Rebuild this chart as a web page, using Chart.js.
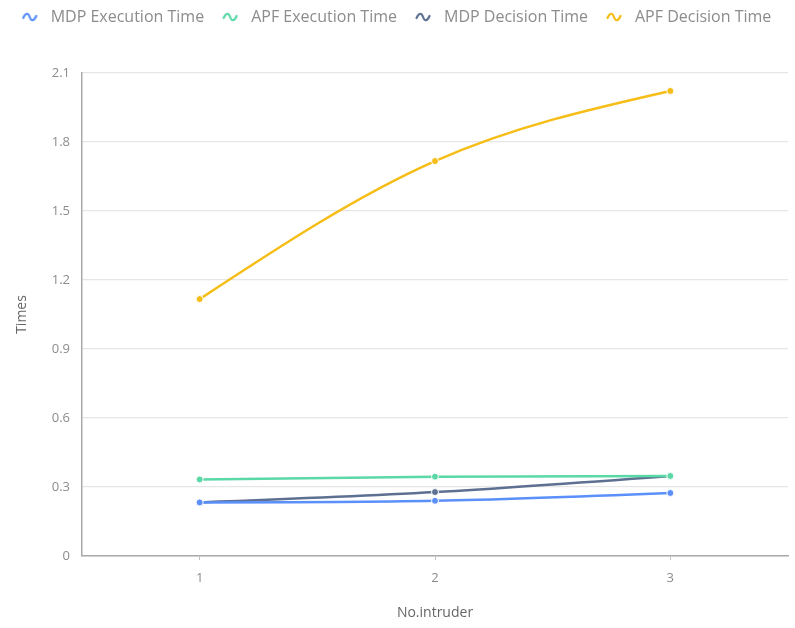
<!DOCTYPE html>
<html>
<head>
<meta charset="utf-8">
<script src="https://cdn.jsdelivr.net/npm/chart.js@4/dist/chart.umd.min.js"></script>
<style>
  html, body { margin: 0; padding: 0; background: #fff; }
  #wrap { width: 795px; height: 628px; }
</style>
</head>
<body>
<div id="wrap"><canvas id="c" width="795" height="628"></canvas></div>
<script>
// Number of intruders on the x axis
const categories = ['1', '2', '3'];

// Times per scenario
const mdpExecution = [0.233, 0.240, 0.274];
const apfExecution = [0.333, 0.345, 0.348];
const mdpDecision  = [0.233, 0.278, 0.348];
const apfDecision  = [1.117, 1.717, 2.022];

const seriesNames = ['MDP Execution Time', 'APF Execution Time', 'MDP Decision Time', 'APF Decision Time'];
const seriesColors = ['#5B8FF9', '#5AD8A6', '#5D7092', '#F6BD16'];

// Small wave glyph used as the legend marker
function waveIcon(color) {
  const cv = document.createElement('canvas');
  cv.width = 16; cv.height = 10;
  const g = cv.getContext('2d');
  g.strokeStyle = color;
  g.lineWidth = 2.2;
  g.lineCap = 'round';
  g.beginPath();
  g.moveTo(1.5, 6);
  g.bezierCurveTo(4, 0.5, 6.5, 0.5, 8, 5);
  g.bezierCurveTo(9.5, 9.5, 12, 9.5, 14.5, 4);
  g.stroke();
  return cv;
}

const allSeries = [mdpExecution, apfExecution, mdpDecision, apfDecision];
const datasets = allSeries.map((vals, i) => ({
  label: seriesNames[i],
  data: vals,
  borderColor: seriesColors[i],
  backgroundColor: seriesColors[i],
  borderWidth: 2.5,
  pointRadius: 3.5,
  pointBorderColor: '#ffffff',
  pointBorderWidth: 1,
  pointBackgroundColor: seriesColors[i],
  pointStyle: 'circle',
  tension: 0.4,
  fill: false,
  icon: waveIcon(seriesColors[i])
}));

// Reserve a fixed band above the plot for the legend and lift the legend row slightly
const legendBand = {
  id: 'legendBand',
  beforeInit(chart) {
    const orig = chart.legend.fit;
    chart.legend.fit = function () {
      orig.call(this);
      this.height = 73;
    };
  },
  afterLayout(chart) {
    chart.legend.top -= 4;
    chart.legend.bottom -= 4;
  }
};

// Smooth each line with a natural cubic spline through its points
const naturalSpline = {
  id: 'naturalSpline',
  beforeDatasetDraw(chart, args) {
    const meta = args.meta;
    const line = meta.dataset;
    if (!line) return;
    line.updateControlPoints(chart.chartArea, 'x');
    const pts = meta.data;
    const n = pts.length;
    if (n < 3) return;
    const xs = pts.map(p => p.x), ys = pts.map(p => p.y);
    const h = [];
    for (let i = 0; i < n - 1; i++) h.push(xs[i + 1] - xs[i]);
    // tridiagonal solve for second derivatives, M0 = Mn-1 = 0
    const M = new Array(n).fill(0);
    const a = [], b = [], c = [], d = [];
    for (let i = 1; i < n - 1; i++) {
      a.push(h[i - 1]);
      b.push(2 * (h[i - 1] + h[i]));
      c.push(h[i]);
      d.push(6 * ((ys[i + 1] - ys[i]) / h[i] - (ys[i] - ys[i - 1]) / h[i - 1]));
    }
    const m = b.length;
    for (let i = 1; i < m; i++) {
      const w = a[i] / b[i - 1];
      b[i] -= w * c[i - 1];
      d[i] -= w * d[i - 1];
    }
    const sol = new Array(m);
    sol[m - 1] = d[m - 1] / b[m - 1];
    for (let i = m - 2; i >= 0; i--) sol[i] = (d[i] - c[i] * sol[i + 1]) / b[i];
    for (let i = 0; i < m; i++) M[i + 1] = sol[i];
    for (let i = 0; i < n - 1; i++) {
      const hi = h[i];
      const slope = (ys[i + 1] - ys[i]) / hi;
      const s0 = slope - hi * (2 * M[i] + M[i + 1]) / 6;
      const s1 = slope + hi * (M[i] + 2 * M[i + 1]) / 6;
      pts[i].cp2x = xs[i] + hi / 3;
      pts[i].cp2y = ys[i] + s0 * hi / 3;
      pts[i + 1].cp1x = xs[i + 1] - hi / 3;
      pts[i + 1].cp1y = ys[i + 1] - s1 * hi / 3;
    }
  }
};

const FONT = '"Open Sans", "Noto Sans", sans-serif';

new Chart(document.getElementById('c'), {
  type: 'line',
  data: { labels: categories, datasets },
  plugins: [legendBand, naturalSpline],
  options: {
    responsive: false,
    animation: false,
    layout: { padding: { left: 0, right: 7, top: 0, bottom: 0 } },
    plugins: {
      legend: {
        position: 'top',
        align: 'center',
        labels: {
          usePointStyle: true,
          pointStyleWidth: 26,
          padding: 13,
          color: '#8c8c8c',
          font: { family: FONT, size: 16 },
          generateLabels(chart) {
            return chart.data.datasets.map((ds, i) => ({
              text: ds.label,
              pointStyle: ds.icon,
              fillStyle: ds.borderColor,
              strokeStyle: ds.borderColor,
              fontColor: '#8c8c8c',
              lineWidth: 0,
              hidden: !chart.isDatasetVisible(i),
              datasetIndex: i
            }));
          }
        }
      },
      tooltip: { enabled: false }
    },
    scales: {
      x: {
        type: 'category',
        offset: true,
        grid: {
          offset: false,
          drawOnChartArea: false,
          drawTicks: true,
          tickLength: 4,
          color: '#bfbfbf'
        },
        border: { display: true, color: '#aaaaaa', width: 1.5 },
        ticks: { color: '#8c8c8c', font: { family: FONT, size: 13 }, padding: 10 },
        title: {
          display: true,
          text: 'No.intruder',
          color: '#666666',
          font: { family: FONT, size: 14 },
          padding: { top: 14, bottom: 7 }
        },
        afterFit(scale) { scale.height = 72; }
      },
      y: {
        min: 0,
        max: 2.1,
        ticks: {
          stepSize: 0.3,
          color: '#8c8c8c',
          font: { family: FONT, size: 13 },
          padding: 12,
          callback: v => (Math.round(v * 10) / 10).toString()
        },
        grid: { color: '#e6e6e6', drawTicks: false, lineWidth: 1.2 },
        border: { display: true, color: '#aaaaaa', width: 1.5 },
        title: {
          display: true,
          text: 'Times',
          color: '#666666',
          font: { family: FONT, size: 14 },
          padding: { top: 14, bottom: 8 }
        },
        afterFit(scale) { scale.width = 82; }
      }
    }
  }
});
</script>
</body>
</html>
